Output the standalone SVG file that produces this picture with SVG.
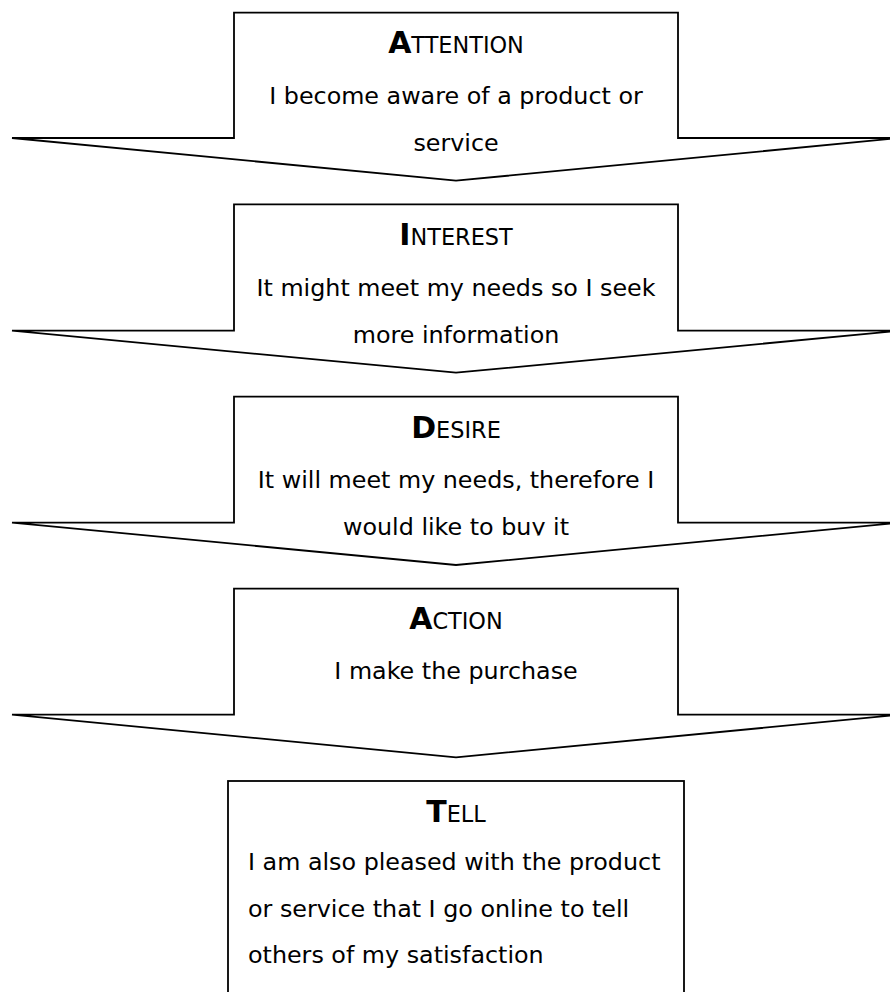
<svg xmlns="http://www.w3.org/2000/svg" width="890" height="992" viewBox="0 0 890 992">
<style>
.shape{fill:#fff;stroke:#000;stroke-width:1.8;stroke-linejoin:miter}
.body{font-family:"DejaVu Sans",Verdana,sans-serif;font-size:23.8px;fill:#000}
.c{text-anchor:middle}
.head{font-family:"DejaVu Sans",Verdana,sans-serif;font-size:22.4px;fill:#000;text-anchor:middle}
.big{font-weight:bold;font-size:30px}
</style>
<defs>
<clipPath id="clipDesire"><rect x="0" y="390" width="890" height="145.5"/></clipPath>
</defs>
<rect width="890" height="992" fill="#fff"/>
<g id="attention">
<path class="shape" d="M234,12.7 H678 V138 H900 L456,180.7 L12,138 H234 Z"/>
<text class="head" x="456" y="52.7"><tspan class="big">A</tspan>TTENTION</text>
<text class="body c" x="456" y="104">I become aware of a product or</text>
<text class="body c" x="456" y="151">service</text>
</g>
<g id="interest">
<path class="shape" d="M234,204.3 H678 V330.7 H900 L456,372.7 L12,330.7 H234 Z"/>
<text class="head" x="456" y="245"><tspan class="big">I</tspan>NTEREST</text>
<text class="body c" x="456" y="295.7">It might meet my needs so I seek</text>
<text class="body c" x="456" y="342.7">more information</text>
</g>
<g id="desire">
<path class="shape" d="M234,396.7 H678 V522.7 H900 L456,565 L12,522.7 H234 Z"/>
<text class="head" x="456" y="437.5"><tspan class="big">D</tspan>ESIRE</text>
<text class="body c" x="456" y="488">It will meet my needs, therefore I</text>
<text class="body c" x="456" y="534.5" clip-path="url(#clipDesire)">would like to buy it</text>
</g>
<g id="action">
<path class="shape" d="M234,588.7 H678 V714.7 H900 L456,757.3 L12,714.7 H234 Z"/>
<text class="head" x="456" y="629"><tspan class="big">A</tspan>CTION</text>
<text class="body c" x="456" y="679">I make the purchase</text>
</g>
<g id="tell">
<rect class="shape" x="228" y="781" width="456" height="230"/>
<text class="head" x="456" y="821.7"><tspan class="big">T</tspan>ELL</text>
<text class="body" x="248" y="870">I am also pleased with the product</text>
<text class="body" x="248" y="917">or service that I go online to tell</text>
<text class="body" x="248" y="963">others of my satisfaction</text>
</g>
<g id="connectors"/>
</svg>
